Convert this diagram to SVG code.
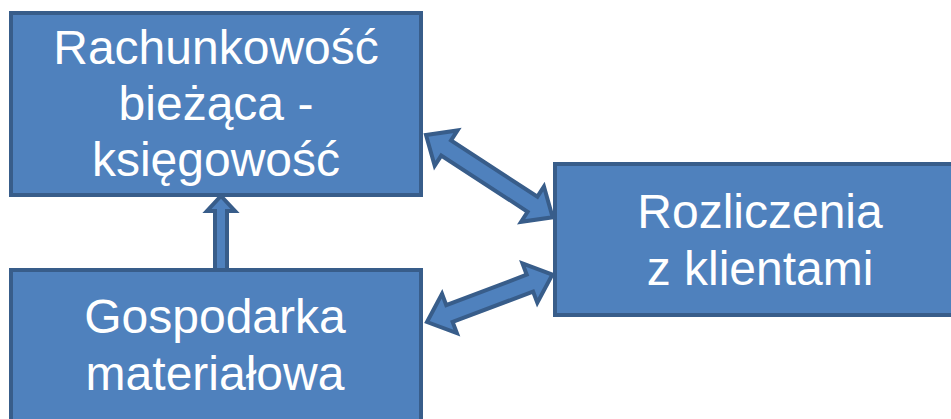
<svg xmlns="http://www.w3.org/2000/svg" width="951" height="419" viewBox="0 0 951 419">
<style>
.box{fill:#4f81bd;stroke:#385d8a;stroke-width:4}
.arr{fill:#4f81bd;stroke:#385d8a;stroke-width:4;stroke-linejoin:miter}
text{font-family:"Liberation Sans",Arial,sans-serif;font-size:48px;fill:#ffffff;text-anchor:middle}
</style>
<rect width="951" height="419" fill="#ffffff"/>
<g id="connectors">
<polygon class="arr" points="221,196 235,211 227,211 227,270 215,270 215,211 207,211"/>
<polygon class="arr" transform="translate(426,135) rotate(33)" points="0,0 24,-21 24,-9 127,-9 127,-21 151,0 127,21 127,9 24,9 24,21"/>
<polygon class="arr" transform="translate(427,322) rotate(-20.7)" points="0,0 24,-21 24,-9 110,-9 110,-21 134,0 110,21 110,9 24,9 24,21"/>
</g>
<g id="node-rachunkowosc">
<rect class="box" x="11" y="13" width="410" height="182"/>
<text x="216" y="64">Rachunkowość</text>
<text x="216" y="120">bieżąca -</text>
<text x="216" y="176">księgowość</text>
</g>
<g id="node-gospodarka">
<rect class="box" x="11" y="270" width="410" height="170"/>
<text x="215" y="333">Gospodarka</text>
<text x="215" y="390">materiałowa</text>
</g>
<g id="node-rozliczenia">
<rect class="box" x="555" y="164" width="420" height="151"/>
<text x="760" y="228">Rozliczenia</text>
<text x="760" y="285">z klientami</text>
</g>
</svg>
